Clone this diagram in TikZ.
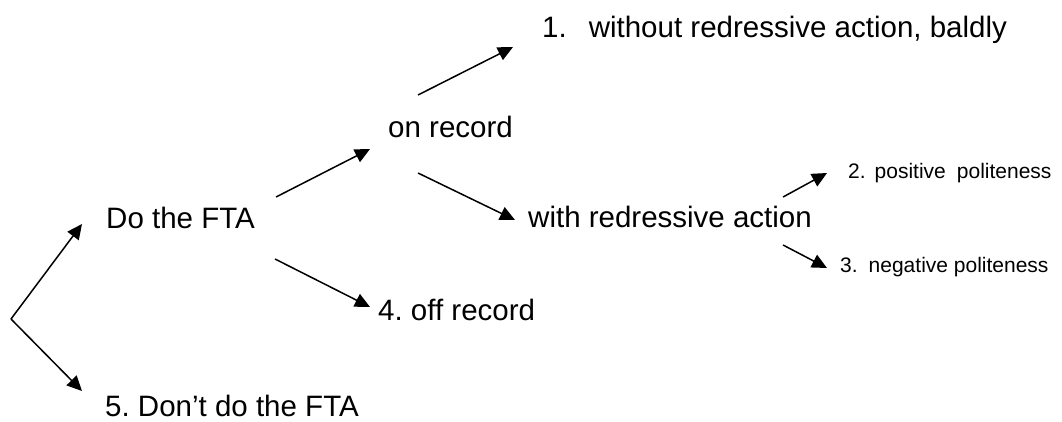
\documentclass[tikz,border=0pt]{standalone}
\usepackage{fontspec}
\setmainfont{Liberation Sans}
\usetikzlibrary{arrows.meta}
\frenchspacing
\tikzset{
  big/.style={font=\fontsize{29.5}{34}\selectfont, inner sep=0pt, anchor=base west},
  small/.style={font=\fontsize{21}{25}\selectfont, inner sep=0pt, anchor=base west},
  arr/.style={line width=1.5pt, -{Triangle[length=15pt,width=14pt]}},
}
\begin{document}
\begin{tikzpicture}[x=1pt, y=-1pt]
  \useasboundingbox (0,0) rectangle (1062,421);
  % labels
  \node[big] (bald) at (542,37) {1.\hspace{22pt}without redressive action, baldly};
  \node[big] (on) at (388,137) {on record};
  \node[big] (with) at (528,227) {with redressive action};
  \node[big] (do) at (106,228) {Do the FTA};
  \node[big] (off) at (378,320) {4. off record};
  \node[big] (dont) at (105,416) {5. Don’t do the FTA};
  \node[small] (pos) at (848,178) {2.\hspace{9pt}positive\hspace{11pt}politeness};
  \node[small] (neg) at (840,272) {3.\hspace{11pt}negative politeness};
  \coordinate (root) at (11,319);
  % branches
  \draw[arr] (root) -- ([shift={(-24,-4)}]do.base west);
  \draw[arr] (root) -- ([shift={(-23,-25)}]dont.base west);
  \draw[arr] ([shift={(21,-31)}]do.base east) -- ([shift={(-18,12)}]on.base west);
  \draw[arr] ([shift={(20,31)}]do.base east) -- ([shift={(-8,-13)}]off.base west);
  \draw[arr] ([shift={(30,-42)}]on.base west) -- ([shift={(-29,10)}]bald.base west);
  \draw[arr] ([shift={(30,36)}]on.base west) -- ([shift={(-13,-7)}]with.base west);
  \draw[arr] ([shift={(-29,-30)}]with.base east) -- ([shift={(-21,-5)}]pos.base west);
  \draw[arr] ([shift={(-29,18)}]with.base east) -- ([shift={(-13,-4)}]neg.base west);
\end{tikzpicture}
\end{document}
